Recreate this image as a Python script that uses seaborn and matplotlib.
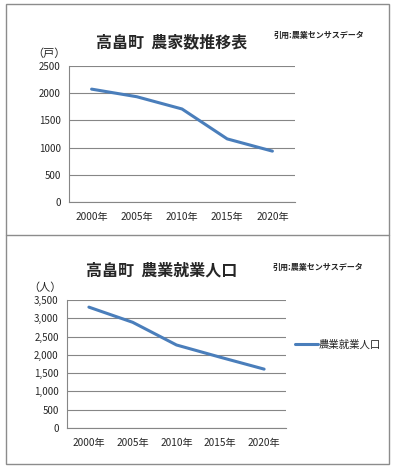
import pandas as pd
import seaborn as sns
import matplotlib.pyplot as plt
from matplotlib.patches import Rectangle
from matplotlib.lines import Line2D

# data
nendo = ['2000年', '2005年', '2010年', '2015年', '2020年']
noka_su = [2075, 1935, 1710, 1160, 935]          # farm households
shugyo_jinko = [3305, 2890, 2270, 1935, 1610]    # farming population

sns.set_theme(style='white')
plt.rcParams['font.family'] = ['Noto Sans CJK JP', 'DejaVu Sans']

line_col = '#4a7ebb'
grid_col = '#868686'

W, H = 398, 470
fig = plt.figure(figsize=(W / 100, H / 100), dpi=100)
fig.patch.set_facecolor('white')


def px(x0, y0, x1, y1):
    # pixel box -> figure fraction [left, bottom, width, height]
    return [x0 / W, 1 - y1 / H, (x1 - x0) / W, (y1 - y0) / H]


# outer frame + divider between the two panels
fig.patches.append(Rectangle((6 / W, 1 - 464 / H), (389 - 6) / W, (464 - 4) / H,
                             transform=fig.transFigure, fill=False,
                             edgecolor='#8c8c8c', linewidth=1.0))
fig.lines.append(Line2D([6 / W, 389 / W], [1 - 235 / H, 1 - 235 / H],
                        transform=fig.transFigure, color='#8c8c8c', linewidth=1.0))


def style_axes(ax, ymax, step, fmt):
    ax.set_xlim(-0.5, 4.5)
    ax.set_ylim(0, ymax)
    ax.set_yticks(range(0, ymax + 1, step))
    ax.set_yticklabels([fmt.format(v) for v in range(0, ymax + 1, step)], fontsize=7)
    ax.set_xticks(range(len(nendo)))
    ax.set_xticklabels(nendo, fontsize=7.3)
    ax.set_xticks([i - 0.5 for i in range(len(nendo) + 1)], minor=True)
    ax.tick_params(axis='x', which='major', length=0, pad=7)
    ax.tick_params(axis='x', which='minor', length=4, color=grid_col, width=0.8, direction='out')
    ax.tick_params(axis='y', length=3, color=grid_col, width=0.8, direction='out', pad=3)
    ax.grid(axis='y', color=grid_col, linewidth=0.8)
    ax.set_axisbelow(True)
    for s in ['top', 'right']:
        ax.spines[s].set_visible(False)
    for s in ['left', 'bottom']:
        ax.spines[s].set_color(grid_col)
        ax.spines[s].set_linewidth(0.8)
    ax.set_xlabel('')
    ax.set_ylabel('')
    ax.set_facecolor('white')


# top chart
df1 = pd.DataFrame({'年': nendo, '農家数': noka_su})
ax1 = fig.add_axes(px(69, 66, 295, 202))
sns.lineplot(data=df1, x='年', y='農家数', ax=ax1, color=line_col, linewidth=2.2, sort=False)
style_axes(ax1, 2500, 500, '{}')
fig.text(172 / W, 1 - 42 / H, '高畠町  農家数推移表', ha='center', va='center',
         fontsize=11.5, fontweight='bold')
fig.text(274 / W, 1 - 35 / H, '引用:農業センサスデータ', ha='left', va='center',
         fontsize=5.8, fontweight='bold')
fig.text(49 / W, 1 - 54 / H, '（戸）', ha='center', va='center', fontsize=8)

# bottom chart
df2 = pd.DataFrame({'年': nendo, '農業就業人口': shugyo_jinko})
ax2 = fig.add_axes(px(67, 300, 286, 428))
sns.lineplot(data=df2, x='年', y='農業就業人口', ax=ax2, color=line_col, linewidth=2.2,
             sort=False, label='農業就業人口')
style_axes(ax2, 3500, 500, '{:,}')
ax2.legend(loc='center left', bbox_to_anchor=(295 / W, 1 - 345 / H),
           bbox_transform=fig.transFigure, frameon=False, fontsize=7.5,
           handlelength=2.2, handletextpad=0.1, borderaxespad=0, borderpad=0)
fig.text(162 / W, 1 - 271 / H, '高畠町  農業就業人口', ha='center', va='center',
         fontsize=11.5, fontweight='bold')
fig.text(273 / W, 1 - 267 / H, '引用:農業センサスデータ', ha='left', va='center',
         fontsize=5.8, fontweight='bold')
fig.text(45 / W, 1 - 288 / H, '（人）', ha='center', va='center', fontsize=8)

fig.savefig('out.png', dpi=100, facecolor='white')
